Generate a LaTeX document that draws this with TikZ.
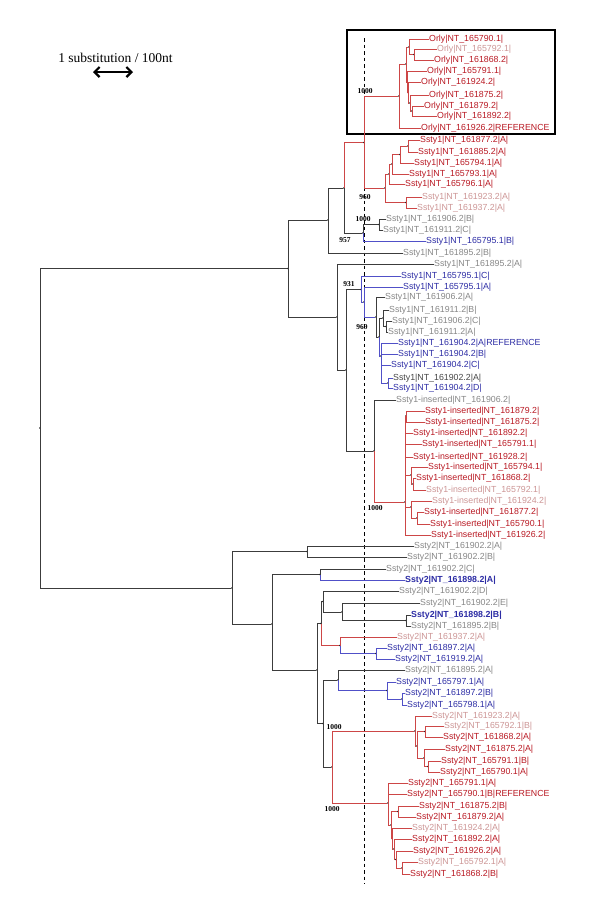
\documentclass[tikz,border=0pt]{standalone}
\usepackage{fontspec}
\setmainfont{Liberation Serif}
\newfontfamily\labfont{Liberation Sans}
\usetikzlibrary{arrows.meta}
\definecolor{cR}{RGB}{185,25,35}
\definecolor{cP}{RGB}{205,150,150}
\definecolor{cG}{RGB}{135,135,135}
\definecolor{cB}{RGB}{45,45,165}
\definecolor{cD}{RGB}{70,70,70}
\definecolor{eK}{RGB}{60,60,60}
\definecolor{eR}{RGB}{205,70,70}
\definecolor{eB}{RGB}{80,80,200}
\tikzset{
 kE/.style={draw=eK, line width=0.6pt},
 rE/.style={draw=eR, line width=0.6pt},
 bE/.style={draw=eB, line width=0.6pt},
 dot/.style={circle, fill=black, inner sep=0pt, minimum size=1.8pt},
 lf/.style={anchor=west, inner sep=0pt, font=\labfont\fontsize{8.8}{9}\selectfont},
 lr/.style={lf, text=cR},
 lp/.style={lf, text=cP},
 lg/.style={lf, text=cG},
 lb/.style={lf, text=cB},
 lbb/.style={lf, text=cB, font=\labfont\bfseries\fontsize{8.8}{9}\selectfont},
 ld/.style={lf, text=cD},
 bs/.style={inner sep=0pt, font=\bfseries\fontsize{7.5}{8}\selectfont},
}
\newcommand\ED[3]{\draw[#1] (#2.center) |- (#3);}
\begin{document}
\begin{tikzpicture}[x=1pt,y=-1pt]
\useasboundingbox (0,0) rectangle (600,922);
\fill[white] (0,0) rectangle (600,922);
% scale bar
\node[inner sep=0pt, font=\fontsize{13.5}{14}\selectfont] (scl) at (115.5,58) {1 substitution / 100nt};
\coordinate (sa) at (93,72); \coordinate (sb) at (133,72);
\draw[line width=2.2pt, {Straight Barb[length=5pt,width=10pt]}-{Straight Barb[length=5pt,width=10pt]}] (sa) -- (sb);
% box
\draw[line width=1.8pt] (347,30) rectangle (555,134);
% dashed line
\coordinate (dtop) at (364,38); \coordinate (dbot) at (364,884);
\draw[line width=0.9pt, dash pattern=on 3.5pt off 3pt] (dtop) -- (dbot);

% ---------------- Orly
\node[lr] (o1) at (429,39) {Orly|NT\_165790.1|};
\node[lp] (o2) at (437,49) {Orly|NT\_165792.1|};
\node[lr] (o3) at (434,60) {Orly|NT\_161868.2|};
\node[lr] (o4) at (427,71) {Orly|NT\_165791.1|};
\node[lr] (o5) at (421,82) {Orly|NT\_161924.2|};
\node[lr] (o6) at (429,95) {Orly|NT\_161875.2|};
\node[lr] (o7) at (424,106) {Orly|NT\_161879.2|};
\node[lr] (o8) at (437,116) {Orly|NT\_161892.2|};
\node[lr] (o9) at (421,128) {Orly|NT\_161926.2|REFERENCE};
\node[dot] (oa) at (414,54.5) {};
\node[dot] (ob) at (409,47) {};
\node[dot] (oX) at (406,64) {};
\node[dot] (oZ) at (407,82) {};
\node[dot] (oW) at (408,92.5) {};
\node[dot] (oV) at (410,103) {};
\node[dot] (oU) at (412,111) {};
\node[dot] (oR) at (399,96) {};
\ED{rE}{oa}{o2.west} \ED{rE}{oa}{o3.west}
\ED{rE}{ob}{o1.west} \ED{rE}{ob}{oa}
\ED{rE}{oU}{o7.west} \ED{rE}{oU}{o8.west}
\ED{rE}{oV}{o6.west} \ED{rE}{oV}{oU}
\ED{rE}{oW}{o5.west} \ED{rE}{oW}{oV}
\ED{rE}{oZ}{o4.west} \ED{rE}{oZ}{oW}
\ED{rE}{oX}{ob} \ED{rE}{oX}{oZ}
\ED{rE}{oR}{oX} \ED{rE}{oR}{o9.west}

% ---------------- Ssty1 A
\node[lr] (a1) at (420,140) {Ssty1|NT\_161877.2|A|};
\node[lr] (a2) at (418,152) {Ssty1|NT\_161885.2|A|};
\node[lr] (a3) at (414,163) {Ssty1|NT\_165794.1|A|};
\node[lr] (a4) at (409,174) {Ssty1|NT\_165793.1|A|};
\node[lr] (a5) at (405,184) {Ssty1|NT\_165796.1|A|};
\node[lp] (a6) at (422,197) {Ssty1|NT\_161923.2|A|};
\node[lp] (a7) at (417,208) {Ssty1|NT\_161937.2|A|};
\node[dot] (aa) at (408,146) {};
\node[dot] (ab) at (400,154.5) {};
\node[dot] (ac) at (392,164) {};
\node[dot] (ad) at (389,174) {};
\node[dot] (ae) at (406,202.5) {};
\node[dot] (sA) at (385,188) {};
\ED{rE}{aa}{a1.west} \ED{rE}{aa}{a2.west}
\ED{rE}{ab}{aa} \ED{rE}{ab}{a3.west}
\ED{rE}{ac}{ab} \ED{rE}{ac}{a4.west}
\ED{rE}{ad}{ac} \ED{rE}{ad}{a5.west}
\ED{rE}{ae}{a6.west} \ED{rE}{ae}{a7.west}
\ED{rE}{sA}{ad} \ED{rE}{sA}{ae}
\node[dot] (nOS) at (364,142.5) {};
\ED{rE}{nOS}{oR} \ED{rE}{nOS}{sA}
\node[bs] at (365,91) {1000};
\node[bs] at (365,197) {960};

% ---------------- Ssty1 B
\node[lg] (b1) at (386,219) {Ssty1|NT\_161906.2|B|};
\node[lg] (b2) at (383,230) {Ssty1|NT\_161911.2|C|};
\node[lb] (b3) at (426,241) {Ssty1|NT\_165795.1|B|};
\node[lg] (b4) at (403,253) {Ssty1|NT\_161895.2|B|};
\node[lg] (b5) at (434,264) {Ssty1|NT\_161895.2|A|};
\node[dot] (ba) at (379,224.5) {};
\node[dot] (bb) at (363,233) {};
\node[dot] (bc) at (344,188) {};
\node[dot] (bd) at (328,220) {};
\node[dot] (be) at (288,268.5) {};
\node[dot] (bf) at (337,317) {};
\node[dot] (bg) at (346,370) {};
\ED{kE}{ba}{b1.west} \ED{kE}{ba}{b2.west}
\ED{kE}{bb}{ba} \ED{bE}{bb}{b3.west}
\ED{rE}{bc}{nOS} \ED{kE}{bc}{bb}
\ED{kE}{bd}{bc} \ED{kE}{bd}{b4.west}
\ED{kE}{be}{bd} \ED{kE}{be}{bf}
\ED{kE}{bf}{b5.west} \ED{kE}{bf}{bg}
\node[bs] at (363,219) {1000};
\node[bs] at (345,240) {957};

% ---------------- 931 group
\node[lb] (c1) at (401,276) {Ssty1|NT\_165795.1|C|};
\node[lb] (c2) at (403,287) {Ssty1|NT\_165795.1|A|};
\node[lg] (c3) at (385,297) {Ssty1|NT\_161906.2|A|};
\node[lg] (c4) at (389,310) {Ssty1|NT\_161911.2|B|};
\node[lg] (c5) at (392,321) {Ssty1|NT\_161906.2|C|};
\node[lg] (c6) at (388,332) {Ssty1|NT\_161911.2|A|};
\node[lb] (c7) at (398,343) {Ssty1|NT\_161904.2|A|REFERENCE};
\node[lb] (c8) at (398,354) {Ssty1|NT\_161904.2|B|};
\node[lb] (c9) at (391,365) {Ssty1|NT\_161904.2|C|};
\node[ld] (c10) at (393,378) {Ssty1|NT\_161902.2|A|};
\node[lb] (c11) at (393,388) {Ssty1|NT\_161904.2|D|};
\node[dot] (cG2) at (386,326.5) {};
\node[dot] (cGa) at (383,318) {};
\node[dot] (ce) at (388,383) {};
\node[dot] (cf) at (381,356) {};
\node[dot] (cY) at (379,337) {};
\node[dot] (cg) at (376,317) {};
\node[dot] (ch) at (364,302) {};
\node[dot] (c931) at (361,289.5) {};
\ED{kE}{cG2}{c5.west} \ED{kE}{cG2}{c6.west}
\ED{kE}{cGa}{c4.west} \ED{kE}{cGa}{cG2}
\ED{bE}{ce}{c10.west} \ED{bE}{ce}{c11.west}
\ED{bE}{cf}{c7.west} \ED{bE}{cf}{c8.west} \ED{bE}{cf}{c9.west} \ED{bE}{cf}{ce}
\ED{kE}{cY}{cGa} \ED{bE}{cY}{cf}
\ED{kE}{cg}{c3.west} \ED{kE}{cg}{cY}
\ED{bE}{ch}{c2.west} \ED{bE}{ch}{cg}
\ED{bE}{c931}{c1.west} \ED{bE}{c931}{ch}
\ED{kE}{bg}{c931}
\node[bs] at (349,284) {931};
\node[bs] at (362,327) {969};

% ---------------- inserted
\node[lg] (i0) at (396,400) {Ssty1-inserted|NT\_161906.2|};
\node[lr] (i1) at (425,411) {Ssty1-inserted|NT\_161879.2|};
\node[lr] (i2) at (425,422) {Ssty1-inserted|NT\_161875.2|};
\node[lr] (i3) at (413,433) {Ssty1-inserted|NT\_161892.2|};
\node[lr] (i4) at (422,444) {Ssty1-inserted|NT\_165791.1|};
\node[lr] (i5) at (413,457) {Ssty1-inserted|NT\_161928.2|};
\node[lr] (i6) at (428,467) {Ssty1-inserted|NT\_165794.1|};
\node[lr] (i7) at (416,478) {Ssty1-inserted|NT\_161868.2|};
\node[lp] (i8) at (426,490) {Ssty1-inserted|NT\_165792.1|};
\node[lp] (i9) at (432,501) {Ssty1-inserted|NT\_161924.2|};
\node[lr] (i10) at (424,512) {Ssty1-inserted|NT\_161877.2|};
\node[lr] (i11) at (430,524) {Ssty1-inserted|NT\_165790.1|};
\node[lr] (i12) at (431,535) {Ssty1-inserted|NT\_161926.2|};
\node[dot] (ia) at (406,416) {};
\node[dot] (ib) at (413,484) {};
\node[dot] (ic) at (411,475) {};
\node[dot] (id) at (417,518) {};
\node[dot] (ie) at (411,507) {};
\node[dot] (iR) at (405,502) {};
\node[dot] (ins) at (374,451) {};
\ED{rE}{ia}{i1.west} \ED{rE}{ia}{i2.west}
\ED{rE}{ib}{i7.west} \ED{rE}{ib}{i8.west}
\ED{rE}{ic}{i6.west} \ED{rE}{ic}{ib}
\ED{rE}{id}{i10.west} \ED{rE}{id}{i11.west}
\ED{rE}{ie}{i9.west} \ED{rE}{ie}{id}
\ED{rE}{iR}{ia} \ED{rE}{iR}{i3.west} \ED{rE}{iR}{i4.west} \ED{rE}{iR}{i5.west}
\ED{rE}{iR}{ic} \ED{rE}{iR}{ie} \ED{rE}{iR}{i12.west}
\ED{kE}{ins}{i0.west} \ED{rE}{ins}{iR}
\ED{kE}{bg}{ins}
\node[bs] at (375,508) {1000};

% ---------------- Ssty2
\node[lg] (s1) at (414,546) {Ssty2|NT\_161902.2|A|};
\node[lg] (s2) at (407,557) {Ssty2|NT\_161902.2|B|};
\node[lg] (s3) at (386,569) {Ssty2|NT\_161902.2|C|};
\node[lbb] (s4) at (405,580) {Ssty2|NT\_161898.2|A|};
\node[lg] (s5) at (399,591) {Ssty2|NT\_161902.2|D|};
\node[lg] (s6) at (420,603) {Ssty2|NT\_161902.2|E|};
\node[lbb] (s7) at (411,615) {Ssty2|NT\_161898.2|B|};
\node[lg] (s8) at (411,626) {Ssty2|NT\_161895.2|B|};
\node[lp] (s9) at (397,637) {Ssty2|NT\_161937.2|A|};
\node[lb] (s10) at (387,648) {Ssty2|NT\_161897.2|A|};
\node[lb] (s11) at (395,659) {Ssty2|NT\_161919.2|A|};
\node[lg] (s12) at (405,670) {Ssty2|NT\_161895.2|A|};
\node[lb] (s13) at (396,682) {Ssty2|NT\_165797.1|A|};
\node[lb] (s14) at (405,693) {Ssty2|NT\_161897.2|B|};
\node[lb] (s15) at (407,705) {Ssty2|NT\_165798.1|A|};
\node[lp] (s16) at (432,716) {Ssty2|NT\_161923.2|A|};
\node[lp] (s17) at (444,726) {Ssty2|NT\_165792.1|B|};
\node[lr] (s18) at (443,737) {Ssty2|NT\_161868.2|A|};
\node[lr] (s19) at (445,749) {Ssty2|NT\_161875.2|A|};
\node[lr] (s20) at (441,761) {Ssty2|NT\_165791.1|B|};
\node[lr] (s21) at (440,772) {Ssty2|NT\_165790.1|A|};
\node[lr] (s22) at (408,783) {Ssty2|NT\_165791.1|A|};
\node[lr] (s23) at (407,794) {Ssty2|NT\_165790.1|B|REFERENCE};
\node[lr] (s24) at (419,806) {Ssty2|NT\_161875.2|B|};
\node[lr] (s25) at (416,817) {Ssty2|NT\_161879.2|A|};
\node[lp] (s26) at (412,828) {Ssty2|NT\_161924.2|A|};
\node[lr] (s27) at (412,839) {Ssty2|NT\_161892.2|A|};
\node[lr] (s28) at (413,851) {Ssty2|NT\_161926.2|A|};
\node[lp] (s29) at (418,862) {Ssty2|NT\_165792.1|A|};
\node[lr] (s30) at (410,874) {Ssty2|NT\_161868.2|B|};
\node[dot] (ta) at (307,551.5) {};
\node[dot] (tb) at (320,574.5) {};
\node[dot] (tc) at (406,620.5) {};
\node[dot] (td) at (342,612) {};
\node[dot] (te) at (323,601.5) {};
\node[dot] (tf) at (376,653.5) {};
\node[dot] (tg) at (340,645.5) {};
\node[dot] (th) at (321,623.5) {};
\node[dot] (ti) at (402,699) {};
\node[dot] (tj) at (387,690.5) {};
\node[dot] (tk) at (338,680) {};
\node[dot] (tl) at (425,731.5) {};
\node[dot] (tm2) at (428,766.5) {};
\node[dot] (tm) at (424,758) {};
\node[dot] (tQ) at (417,746) {};
\node[dot] (tn) at (415,731) {};
\node[dot] (to) at (398,811.5) {};
\node[dot] (tp) at (402,868) {};
\node[dot] (tq) at (396,859.5) {};
\node[dot] (tY) at (394,849) {};
\node[dot] (tZ) at (392,838.5) {};
\node[dot] (tW) at (391,825) {};
\node[dot] (ts) at (388,803) {};
\node[dot] (tt) at (332,767) {};
\node[dot] (tu) at (323,723.5) {};
\node[dot] (tv) at (317,670) {};
\node[dot] (tP1) at (272,624) {};
\node[dot] (tP2) at (232,588) {};
\ED{kE}{ta}{s1.west} \ED{kE}{ta}{s2.west}
\ED{kE}{tb}{s3.west} \ED{bE}{tb}{s4.west}
\ED{kE}{tc}{s7.west} \ED{kE}{tc}{s8.west}
\ED{kE}{td}{s6.west} \ED{kE}{td}{tc}
\ED{kE}{te}{s5.west} \ED{kE}{te}{td}
\ED{bE}{tf}{s10.west} \ED{bE}{tf}{s11.west}
\ED{rE}{tg}{s9.west} \ED{bE}{tg}{tf}
\ED{kE}{th}{te} \ED{rE}{th}{tg}
\ED{bE}{ti}{s14.west} \ED{bE}{ti}{s15.west}
\ED{bE}{tj}{s13.west} \ED{bE}{tj}{ti}
\ED{kE}{tk}{s12.west} \ED{bE}{tk}{tj}
\ED{rE}{tl}{s17.west} \ED{rE}{tl}{s18.west}
\ED{rE}{tm2}{s20.west} \ED{rE}{tm2}{s21.west}
\ED{rE}{tm}{s19.west} \ED{rE}{tm}{tm2}
\ED{rE}{tQ}{tl} \ED{rE}{tQ}{tm}
\ED{rE}{tn}{s16.west} \ED{rE}{tn}{tQ}
\ED{rE}{to}{s24.west} \ED{rE}{to}{s25.west}
\ED{rE}{tp}{s29.west} \ED{rE}{tp}{s30.west}
\ED{rE}{tq}{s28.west} \ED{rE}{tq}{tp}
\ED{rE}{tY}{s27.west} \ED{rE}{tY}{tq}
\ED{rE}{tZ}{s26.west} \ED{rE}{tZ}{tY}
\ED{rE}{tW}{to} \ED{rE}{tW}{tZ}
\ED{rE}{ts}{s22.west} \ED{rE}{ts}{s23.west} \ED{rE}{ts}{tW}
\ED{rE}{tt}{tn} \ED{rE}{tt}{ts}
\ED{kE}{tu}{tk} \ED{kE}{tu}{tt}
\ED{kE}{tv}{th} \ED{kE}{tv}{tu}
\ED{kE}{tP1}{tb} \ED{kE}{tP1}{tv}
\ED{kE}{tP2}{ta} \ED{kE}{tP2}{tP1}
\node[bs] at (334,727) {1000};
\node[bs] at (332,809) {1000};

% ---------------- root
\node[dot] (R) at (40,428) {};
\ED{kE}{R}{be} \ED{kE}{R}{tP2}
\end{tikzpicture}
\end{document}
